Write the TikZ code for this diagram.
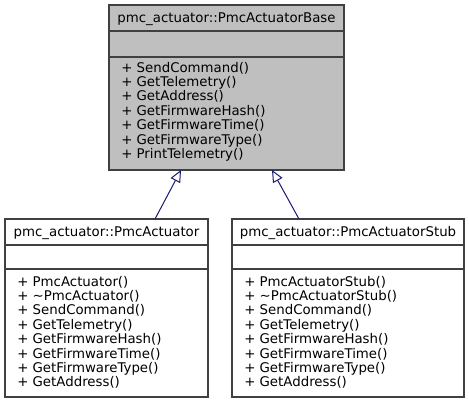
\documentclass[tikz,border=0pt]{standalone}
\usepackage{fontspec}
\setmainfont{DejaVu Sans}
\usetikzlibrary{arrows.meta}
\definecolor{edgeblue}{HTML}{191970}
\definecolor{boxfill}{HTML}{BFBFBF}
\definecolor{boxline}{HTML}{404040}
\begin{document}
\begin{tikzpicture}[x=0.75pt,y=-0.75pt,
  umlbox/.style={draw=boxline, line width=0.8pt, rectangle, inner sep=0pt},
  divider/.style={draw=boxline, line width=0.8pt},
  txt/.style={anchor=base west, inner sep=0pt, font=\fontsize{10}{12}\selectfont},
  ttl/.style={anchor=base, inner sep=0pt, font=\fontsize{10}{12}\selectfont},
  inherit/.style={draw=edgeblue, line width=0.75pt, -{Triangle[open, length=9pt, width=8pt]}}]
\useasboundingbox (0,0) rectangle (469,404);
% boxes
\node[umlbox, fill=boxfill, minimum width=176.25pt, minimum height=123.75pt] (base) at (226.5,87.5) {};
\node[umlbox, fill=white, minimum width=152.25pt, minimum height=133.5pt] (act) at (106.5,308) {};
\node[umlbox, fill=white, minimum width=174pt, minimum height=133.5pt] (stub) at (348,308) {};
% dividers
\draw[divider] (base.west |- 0,31) -- (base.east |- 0,31);
\draw[divider] (base.west |- 0,57) -- (base.east |- 0,57);
\draw[divider] (act.west |- 0,245) -- (act.east |- 0,245);
\draw[divider] (act.west |- 0,269) -- (act.east |- 0,269);
\draw[divider] (stub.west |- 0,245) -- (stub.east |- 0,245);
\draw[divider] (stub.west |- 0,269) -- (stub.east |- 0,269);
% titles
\node[ttl] (tbase) at (226.5,22.5) {pmc\_actuator::PmcActuatorBase};
\node[ttl] (tact) at (106.5,236.5) {pmc\_actuator::PmcActuator};
\node[ttl] (tstub) at (348,236.5) {pmc\_actuator::PmcActuatorStub};
% members
\foreach \t [count=\i from 0] in {+ SendCommand(),+ GetTelemetry(),+ GetAddress(),+ GetFirmwareHash(),+ GetFirmwareTime(),+ GetFirmwareType(),+ PrintTelemetry()}
  \node[txt] (mb\i) at (121,72+14.4*\i) {\t};
\foreach \t [count=\i from 0] in {+ PmcActuator(),+ \char"007E PmcActuator(),+ SendCommand(),+ GetTelemetry(),+ GetFirmwareHash(),+ GetFirmwareTime(),+ GetFirmwareType(),+ GetAddress()}
  \node[txt] (ma\i) at (17,286+14.4*\i) {\t};
\foreach \t [count=\i from 0] in {+ PmcActuatorStub(),+ \char"007E PmcActuatorStub(),+ SendCommand(),+ GetTelemetry(),+ GetFirmwareHash(),+ GetFirmwareTime(),+ GetFirmwareType(),+ GetAddress()}
  \node[txt] (ms\i) at (244,286+14.4*\i) {\t};
% inheritance arrows
\coordinate (a1s) at (155,219);
\coordinate (a1e) at (181,170);
\coordinate (a2s) at (299,219);
\coordinate (a2e) at (272,170);
\draw[inherit] (a1s) -- (a1e);
\draw[inherit] (a2s) -- (a2e);
\end{tikzpicture}
\end{document}
